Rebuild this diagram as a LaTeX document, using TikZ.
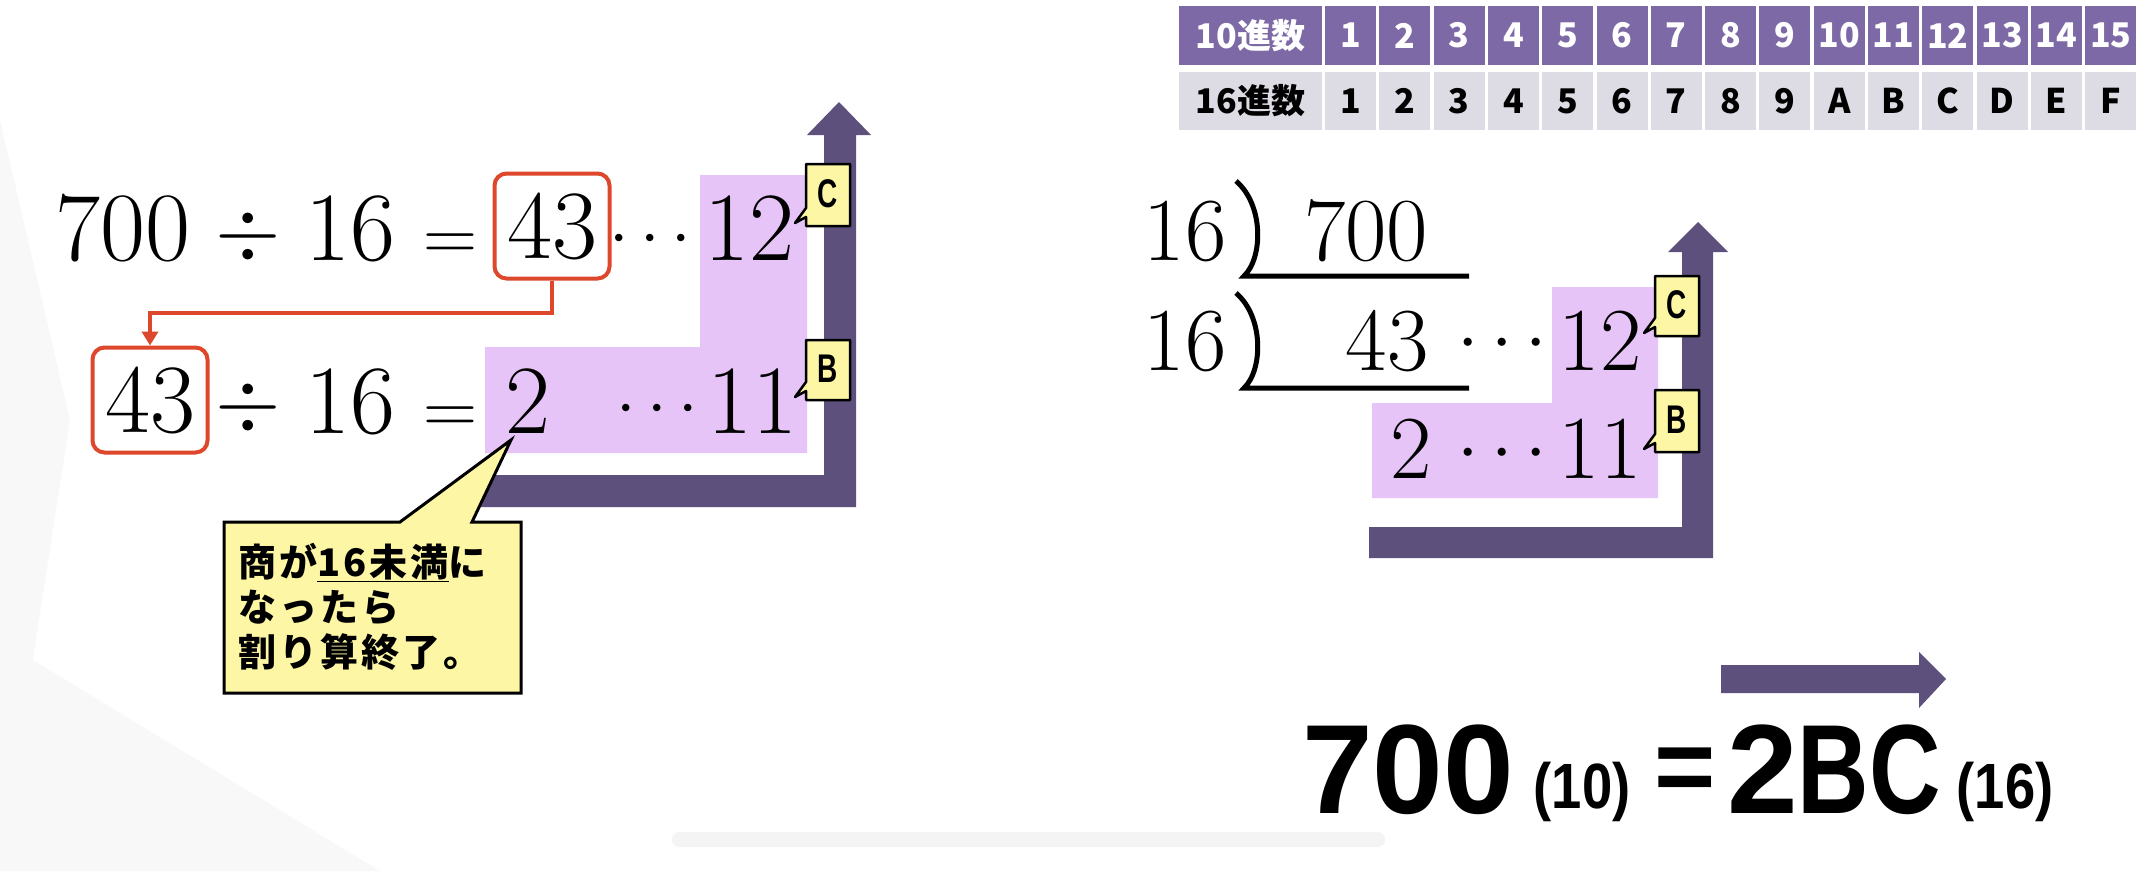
\RequirePackage{fix-cm}
\documentclass[tikz,border=0pt]{standalone}
\usepackage{fontspec}
\usepackage{graphicx}
\newfontfamily\jp{Noto Sans CJK JP}
\newfontfamily\jpw{Noto Sans CJK JP}[LetterSpace=8]
\newfontfamily\ar{Liberation Sans}
\usetikzlibrary{arrows.meta}
\definecolor{hdr}{RGB}{125,105,165}
\definecolor{rowc}{RGB}{221,219,228}
\definecolor{arr}{RGB}{94,80,124}
\definecolor{pinkf}{RGB}{231,196,247}
\definecolor{yel}{RGB}{252,246,165}
\definecolor{redb}{RGB}{221,72,44}
\definecolor{bgA}{RGB}{244,244,244}
\definecolor{bgB}{RGB}{248,248,248}
\begin{document}
\begin{tikzpicture}[x=1pt,y=-1pt,
  num/.style={anchor=base,inner sep=0,font=\fontsize{98}{100}\selectfont},
  rnum/.style={anchor=base,inner sep=0,font=\fontsize{90}{92}\selectfont},
  op/.style={anchor=base,inner sep=0,font=\fontsize{75}{77}\selectfont},
  dots/.style={anchor=base,inner sep=0,font=\fontsize{70}{72}\selectfont},
  rdots/.style={anchor=base,inner sep=0,font=\fontsize{77}{79}\selectfont},
  dv/.style={anchor=base,inner sep=0,font=\fontsize{84}{86}\selectfont},
  redbox/.style={draw=redb,line width=4pt,rounded corners=12pt,inner sep=0,minimum width=115pt,minimum height=105pt,font=\fontsize{98}{100}\selectfont},
  hcell/.style={fill=hdr,text=white,inner sep=0,minimum height=59pt,font=\jp\bfseries\fontsize{34}{36}\selectfont},
  vcell/.style={fill=rowc,text=black,inner sep=0,minimum height=58pt,font=\jp\bfseries\fontsize{34}{36}\selectfont},
  purp/.style={fill=arr,draw=none},
  pinkarea/.style={fill=pinkf,draw=none},
  tag/.style={fill=yel,draw=black,line width=2.5pt,line join=round},
  tagtext/.style={inner sep=0,font=\ar\bfseries\fontsize{40}{40}\selectfont},
  bracket/.style={line width=5pt,line cap=butt},
  bignum/.style={inner sep=0,font=\ar\bfseries\fontsize{127}{127}\selectfont},
  subnum/.style={anchor=base,inner sep=0,font=\ar\bfseries\fontsize{64}{64}\selectfont},
]
\useasboundingbox (0,0) rectangle (2154,871);
\fill[white] (0,0) rectangle (2154,871);
% faint background
\fill[bgB] (0,120) -- (70,420) -- (0,871) -- cycle;
\fill[bgB] (0,871) -- (0,640) -- (380,871) -- cycle;
\fill[bgA,rounded corners=7pt] (672,832) rectangle (1385,847);

% table
\node[hcell,minimum width=143pt] (h0) at (1250.5,35.5) {10進数};
\node[vcell,minimum width=143pt] (v0) at (1250.5,101) {16進数};
\foreach \i/\h in {1/1,2/2,3/3,4/4,5/5,6/6,7/7,8/8,9/9,10/A,11/B,12/C,13/D,14/E,15/F}{
  \node[hcell,minimum width=51pt] (h\i) at ({1350.5+(\i-1)*54.3},35.5) {\i};
  \node[vcell,minimum width=51pt] (v\i) at ({1350.5+(\i-1)*54.3},101) {\h};
}

% pink areas
\fill[pinkarea] (700,175) -- (807,175) -- (807,453) -- (485,453) -- (485,347) -- (700,347) -- cycle;
\fill[pinkarea] (1552,287) -- (1658,287) -- (1658,498) -- (1372,498) -- (1372,403) -- (1552,403) -- cycle;

% purple arrows
\fill[purp] (476,475) -- (824,475) -- (824,135) -- (807,135) -- (839,102) -- (871,135) -- (856,135) -- (856,507) -- (476,507) -- cycle;
\fill[purp] (1369,527) -- (1682,527) -- (1682,252) -- (1668,252) -- (1698,222) -- (1728,252) -- (1713,252) -- (1713,558) -- (1369,558) -- cycle;
\fill[purp] (1721,665) -- (1919,665) -- (1919,652) -- (1946,679) -- (1919,708) -- (1919,693) -- (1721,693) -- cycle;

% left equations
\node[num] (t700) at (123,260) {700};
\node[dv]  (tdiv1) at (248,257) {$\div$};
\node[num] (t16a) at (350,260) {16};
\node[op]  (teq1) at (450,260) {$=$};
\node[redbox] (box1) at (552,226) {43};
\node[dots] (tdots1) at (650,255) {$\cdots$};
\node[num] (t12) at (749,260) {12};

\node[redbox] (box2) at (150,400) {43};
\node[dv]  (tdiv2) at (248,428) {$\div$};
\node[num] (t16b) at (350,433) {16};
\node[op]  (teq2) at (450,433) {$=$};
\node[num] (t2) at (528,433) {2};
\node[dots] (tdots2) at (657,425) {$\cdots$};
\node[num] (t11) at (752,433) {11};

\draw[redb,line width=4pt,-{Triangle[width=16pt,length=14pt]}] (box1.south) -- ++(0,32) -| (box2.north);

% right long division
\node[rnum] (r16a) at (1185,260) {16};
\node[rnum] (r700) at (1366,260) {700};
\draw[bracket] (1236,181) .. controls (1264,205) and (1263,258) .. (1244,276) -- (1469,276);
\node[rnum] (r16b) at (1185,370) {16};
\node[rnum] (r43) at (1387,370) {43};
\draw[bracket] (1236,293) .. controls (1264,317) and (1263,370) .. (1244,388) -- (1469,388);
\node[rdots] (rdots1) at (1502,361) {$\cdots$};
\node[rnum] (r12) at (1600,370) {12};
\node[rnum] (r2) at (1411,478) {2};
\node[rdots] (rdots2) at (1502,471) {$\cdots$};
\node[rnum] (r11) at (1600,478) {11};

% tags
\draw[tag] (806,164) -- (850,164) -- (850,226) -- (806,226) -- (806,217) -- (795,223) -- (806,208) -- cycle;
\node[tagtext] (tagC1) at (828,194) {\scalebox{0.7}[1]{C}};
\draw[tag] (806,340) -- (850,340) -- (850,400) -- (806,400) -- (806,391) -- (795,397) -- (806,382) -- cycle;
\node[tagtext] (tagB1) at (828,369) {\scalebox{0.7}[1]{B}};
\draw[tag] (1655,276) -- (1699,276) -- (1699,336) -- (1655,336) -- (1655,327) -- (1644,333) -- (1655,318) -- cycle;
\node[tagtext] (tagC2) at (1677,305) {\scalebox{0.7}[1]{C}};
\draw[tag] (1655,390) -- (1699,390) -- (1699,452) -- (1655,452) -- (1655,443) -- (1644,449) -- (1655,434) -- cycle;
\node[tagtext] (tagB2) at (1677,420) {\scalebox{0.7}[1]{B}};

% callout
\draw[fill=yel,draw=black,line width=3pt,line join=miter] (224,522) -- (400,522) -- (511,440) -- (472,522) -- (521,522) -- (521,693) -- (224,693) -- cycle;
\node[anchor=north west,inner sep=0,align=left,font=\jpw\bfseries\fontsize{38}{45}\selectfont] (note) at (238,543) {商が\underline{16未満}に\\なったら\\割り算終了。};

% result
\node[bignum,anchor=base] (b700) at (1408,813) {700};
\node[subnum] (b10) at (1582,808) {\scalebox{0.85}[1]{(10)}};
\node[inner sep=0,font=\ar\bfseries\fontsize{105}{105}\selectfont] (beq) at (1685,775) {=};
\node[bignum,anchor=base west] (b2BC) at (1727,813) {2\scalebox{0.78}[1]{BC}};
\node[subnum] (b16) at (2005,808) {\scalebox{0.85}[1]{(16)}};
\end{tikzpicture}
\end{document}
